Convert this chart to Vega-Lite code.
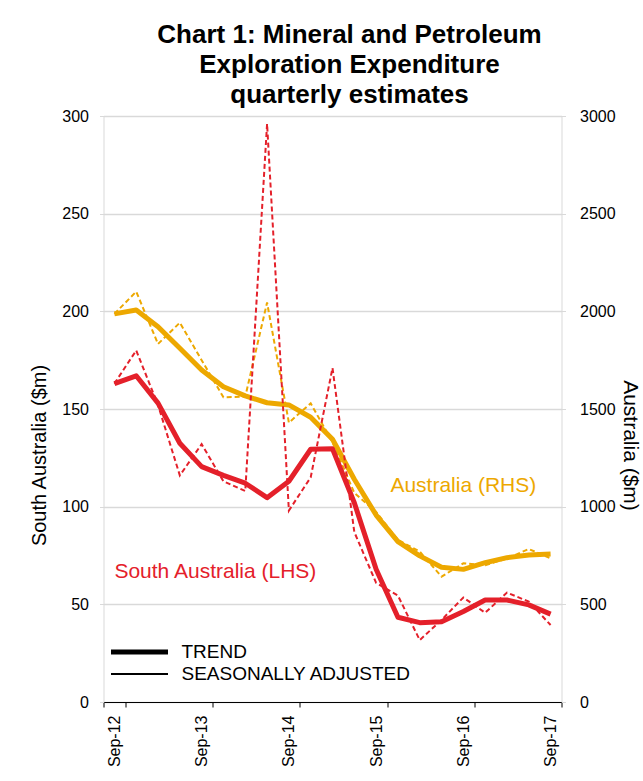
{
  "$schema": "https://vega.github.io/schema/vega-lite/v6.json",
  "width": 458,
  "height": 586,
  "autosize": {"type": "none"},
  "padding": {"left": 103.5, "top": 116, "right": 81.5, "bottom": 79},
  "background": "white",
  "config": {
    "font": "Liberation Sans",
    "view": {"stroke": null},
    "axis": {"labelFont": "Liberation Sans", "titleFont": "Liberation Sans", "labelColor": "#000", "titleColor": "#000", "titleFontWeight": "normal"},
    "legend": {
      "title": null,
      "orient": "none",
      "legendX": 5,
      "legendY": 525,
      "symbolType": "stroke",
      "symbolSize": 3249,
      "symbolStrokeColor": "#000",
      "clipHeight": 22,
      "labelFontSize": 19,
      "labelFont": "Liberation Sans",
      "labelColor": "#000",
      "labelLimit": 0,
      "labelOffset": 11,
      "rowPadding": 0,
      "padding": 0,
      "symbolOffset": 0
    }
  },
  "title": {
    "text": ["Chart 1: Mineral and Petroleum", "Exploration Expenditure", "quarterly estimates"],
    "font": "Liberation Sans",
    "fontSize": 26,
    "fontWeight": "bold",
    "lineHeight": 30,
    "anchor": "middle",
    "dx": 17,
    "offset": 0,
    "color": "#000"
  },
  "datasets": {
    "sa": [
      {"q": "Sep-12", "measure": "SEASONALLY ADJUSTED", "v": 163},
      {"q": "Dec-12", "measure": "SEASONALLY ADJUSTED", "v": 180},
      {"q": "Mar-13", "measure": "SEASONALLY ADJUSTED", "v": 152},
      {"q": "Jun-13", "measure": "SEASONALLY ADJUSTED", "v": 116},
      {"q": "Sep-13", "measure": "SEASONALLY ADJUSTED", "v": 132},
      {"q": "Dec-13", "measure": "SEASONALLY ADJUSTED", "v": 113},
      {"q": "Mar-14", "measure": "SEASONALLY ADJUSTED", "v": 108},
      {"q": "Jun-14", "measure": "SEASONALLY ADJUSTED", "v": 296},
      {"q": "Sep-14", "measure": "SEASONALLY ADJUSTED", "v": 98},
      {"q": "Dec-14", "measure": "SEASONALLY ADJUSTED", "v": 115},
      {"q": "Mar-15", "measure": "SEASONALLY ADJUSTED", "v": 171},
      {"q": "Jun-15", "measure": "SEASONALLY ADJUSTED", "v": 87},
      {"q": "Sep-15", "measure": "SEASONALLY ADJUSTED", "v": 61},
      {"q": "Dec-15", "measure": "SEASONALLY ADJUSTED", "v": 54.5},
      {"q": "Mar-16", "measure": "SEASONALLY ADJUSTED", "v": 31.7},
      {"q": "Jun-16", "measure": "SEASONALLY ADJUSTED", "v": 42},
      {"q": "Sep-16", "measure": "SEASONALLY ADJUSTED", "v": 53.5},
      {"q": "Dec-16", "measure": "SEASONALLY ADJUSTED", "v": 45.7},
      {"q": "Mar-17", "measure": "SEASONALLY ADJUSTED", "v": 56},
      {"q": "Jun-17", "measure": "SEASONALLY ADJUSTED", "v": 51.4},
      {"q": "Sep-17", "measure": "SEASONALLY ADJUSTED", "v": 39.4},
      {"q": "Sep-12", "measure": "TREND", "v": 163},
      {"q": "Dec-12", "measure": "TREND", "v": 167},
      {"q": "Mar-13", "measure": "TREND", "v": 153},
      {"q": "Jun-13", "measure": "TREND", "v": 132.5},
      {"q": "Sep-13", "measure": "TREND", "v": 120.5},
      {"q": "Dec-13", "measure": "TREND", "v": 116},
      {"q": "Mar-14", "measure": "TREND", "v": 112},
      {"q": "Jun-14", "measure": "TREND", "v": 104.6},
      {"q": "Sep-14", "measure": "TREND", "v": 113},
      {"q": "Dec-14", "measure": "TREND", "v": 129.4},
      {"q": "Mar-15", "measure": "TREND", "v": 129.6},
      {"q": "Jun-15", "measure": "TREND", "v": 102},
      {"q": "Sep-15", "measure": "TREND", "v": 68},
      {"q": "Dec-15", "measure": "TREND", "v": 43.4},
      {"q": "Mar-16", "measure": "TREND", "v": 40.6},
      {"q": "Jun-16", "measure": "TREND", "v": 41.1},
      {"q": "Sep-16", "measure": "TREND", "v": 46.3},
      {"q": "Dec-16", "measure": "TREND", "v": 52.2},
      {"q": "Mar-17", "measure": "TREND", "v": 52.2},
      {"q": "Jun-17", "measure": "TREND", "v": 49.7},
      {"q": "Sep-17", "measure": "TREND", "v": 45}
    ],
    "aus": [
      {"q": "Sep-12", "measure": "SEASONALLY ADJUSTED", "v": 1987},
      {"q": "Dec-12", "measure": "SEASONALLY ADJUSTED", "v": 2101},
      {"q": "Mar-13", "measure": "SEASONALLY ADJUSTED", "v": 1833},
      {"q": "Jun-13", "measure": "SEASONALLY ADJUSTED", "v": 1942},
      {"q": "Sep-13", "measure": "SEASONALLY ADJUSTED", "v": 1750},
      {"q": "Dec-13", "measure": "SEASONALLY ADJUSTED", "v": 1560},
      {"q": "Mar-14", "measure": "SEASONALLY ADJUSTED", "v": 1563},
      {"q": "Jun-14", "measure": "SEASONALLY ADJUSTED", "v": 2045},
      {"q": "Sep-14", "measure": "SEASONALLY ADJUSTED", "v": 1430},
      {"q": "Dec-14", "measure": "SEASONALLY ADJUSTED", "v": 1529},
      {"q": "Mar-15", "measure": "SEASONALLY ADJUSTED", "v": 1330},
      {"q": "Jun-15", "measure": "SEASONALLY ADJUSTED", "v": 1070},
      {"q": "Sep-15", "measure": "SEASONALLY ADJUSTED", "v": 973},
      {"q": "Dec-15", "measure": "SEASONALLY ADJUSTED", "v": 830},
      {"q": "Mar-16", "measure": "SEASONALLY ADJUSTED", "v": 770},
      {"q": "Jun-16", "measure": "SEASONALLY ADJUSTED", "v": 642},
      {"q": "Sep-16", "measure": "SEASONALLY ADJUSTED", "v": 710},
      {"q": "Dec-16", "measure": "SEASONALLY ADJUSTED", "v": 700},
      {"q": "Mar-17", "measure": "SEASONALLY ADJUSTED", "v": 735},
      {"q": "Jun-17", "measure": "SEASONALLY ADJUSTED", "v": 783},
      {"q": "Sep-17", "measure": "SEASONALLY ADJUSTED", "v": 736},
      {"q": "Sep-12", "measure": "TREND", "v": 1987},
      {"q": "Dec-12", "measure": "TREND", "v": 2007},
      {"q": "Mar-13", "measure": "TREND", "v": 1921},
      {"q": "Jun-13", "measure": "TREND", "v": 1811},
      {"q": "Sep-13", "measure": "TREND", "v": 1700},
      {"q": "Dec-13", "measure": "TREND", "v": 1614},
      {"q": "Mar-14", "measure": "TREND", "v": 1567},
      {"q": "Jun-14", "measure": "TREND", "v": 1532},
      {"q": "Sep-14", "measure": "TREND", "v": 1521},
      {"q": "Dec-14", "measure": "TREND", "v": 1458},
      {"q": "Mar-15", "measure": "TREND", "v": 1345},
      {"q": "Jun-15", "measure": "TREND", "v": 1140},
      {"q": "Sep-15", "measure": "TREND", "v": 957},
      {"q": "Dec-15", "measure": "TREND", "v": 821},
      {"q": "Mar-16", "measure": "TREND", "v": 748},
      {"q": "Jun-16", "measure": "TREND", "v": 690},
      {"q": "Sep-16", "measure": "TREND", "v": 679},
      {"q": "Dec-16", "measure": "TREND", "v": 713},
      {"q": "Mar-17", "measure": "TREND", "v": 739},
      {"q": "Jun-17", "measure": "TREND", "v": 753},
      {"q": "Sep-17", "measure": "TREND", "v": 758}
    ]
  },
  "encoding": {
    "x": {
      "field": "q",
      "type": "ordinal",
      "bandPosition": 0.5,
      "scale": {
        "type": "band",
        "paddingInner": 0,
        "paddingOuter": 0,
        "domain": ["Sep-12","Dec-12","Mar-13","Jun-13","Sep-13","Dec-13","Mar-14","Jun-14","Sep-14","Dec-14","Mar-15","Jun-15","Sep-15","Dec-15","Mar-16","Jun-16","Sep-16","Dec-16","Mar-17","Jun-17","Sep-17"]
      },
      "axis": {
        "title": null,
        "values": ["Sep-12","Sep-13","Sep-14","Sep-15","Sep-16","Sep-17"],
        "tickBand": "extent",
        "labelAngle": -90,
        "labelAlign": "right",
        "labelBaseline": "middle",
        "labelPadding": 8,
        "labelFontSize": 16,
        "tickSize": 5,
        "tickColor": "#000",
        "domainColor": "#000",
        "grid": false
      }
    }
  },
  "layer": [
    {
      "data": {"name": "aus"},
      "encoding": {
        "y": {
          "field": "v",
          "type": "quantitative",
          "scale": {"domain": [0, 3000], "nice": false},
          "axis": {
            "orient": "right",
            "title": "Australia ($m)",
            "format": "d",
            "values": [0, 500, 1000, 1500, 2000, 2500, 3000],
            "grid": false,
            "domainColor": "#d9d9d9",
            "tickColor": "#d9d9d9",
            "tickSize": 4,
            "labelPadding": 14,
            "labelFontSize": 16,
            "titleFontSize": 21,
            "titleAngle": 90,
            "titleX": 62,
            "titleY": 329,
            "titleAlign": "center",
            "titleBaseline": "alphabetic"
          }
        },
        "strokeWidth": {
          "field": "measure",
          "type": "nominal",
          "scale": {"domain": ["TREND", "SEASONALLY ADJUSTED"], "range": [5, 2]}
        }
      },
      "layer": [
        {
          "transform": [{"filter": "datum.measure == 'SEASONALLY ADJUSTED'"}],
          "mark": {"type": "line", "color": "#EDA800", "strokeDash": [5, 3]}
        },
        {
          "transform": [{"filter": "datum.measure == 'TREND'"}],
          "mark": {"type": "line", "color": "#EDA800", "strokeJoin": "round"}
        }
      ]
    },
    {
      "encoding": {
        "y": {
          "field": "v",
          "type": "quantitative",
          "scale": {"domain": [0, 300], "nice": false},
          "axis": {
            "orient": "left",
            "title": "South Australia ($m)",
            "values": [0, 50, 100, 150, 200, 250, 300],
            "grid": true,
            "gridColor": "#d9d9d9",
            "gridWidth": 1.5,
            "domainColor": "#d9d9d9",
            "tickColor": "#d9d9d9",
            "tickSize": 4,
            "labelPadding": 11,
            "labelFontSize": 16,
            "titleFontSize": 20,
            "titleX": -58,
            "titleY": 339,
            "titleAlign": "center",
            "titleBaseline": "alphabetic"
          }
        }
      },
      "layer": [
        {
          "data": {"name": "sa"},
          "transform": [{"filter": "datum.measure == 'SEASONALLY ADJUSTED'"}],
          "mark": {"type": "line", "color": "#E4202A", "strokeDash": [5, 3]},
          "encoding": {
            "strokeWidth": {
              "field": "measure",
              "type": "nominal",
              "scale": {"domain": ["TREND", "SEASONALLY ADJUSTED"], "range": [5, 2]}
            }
          }
        },
        {
          "data": {"name": "sa"},
          "transform": [{"filter": "datum.measure == 'TREND'"}],
          "mark": {"type": "line", "color": "#E4202A", "strokeJoin": "round"},
          "encoding": {
            "strokeWidth": {
              "field": "measure",
              "type": "nominal",
              "scale": {"domain": ["TREND", "SEASONALLY ADJUSTED"], "range": [5, 2]}
            }
          }
        },
        {
          "data": {"values": [{"q": "Sep-12", "v": 63.5, "label": "South Australia (LHS)"}]},
          "mark": {"type": "text", "align": "left", "baseline": "alphabetic", "fontSize": 21, "color": "#E4202A", "dx": 0, "font": "Liberation Sans"},
          "encoding": {"text": {"field": "label"}}
        },
        {
          "data": {"values": [{"q": "Sep-16", "v": 107.7, "label": "Australia (RHS)"}]},
          "mark": {"type": "text", "align": "center", "baseline": "alphabetic", "fontSize": 21, "color": "#EDA800", "font": "Liberation Sans"},
          "encoding": {"text": {"field": "label"}}
        }
      ]
    }
  ],
  "resolve": {"scale": {"y": "independent"}}
}
